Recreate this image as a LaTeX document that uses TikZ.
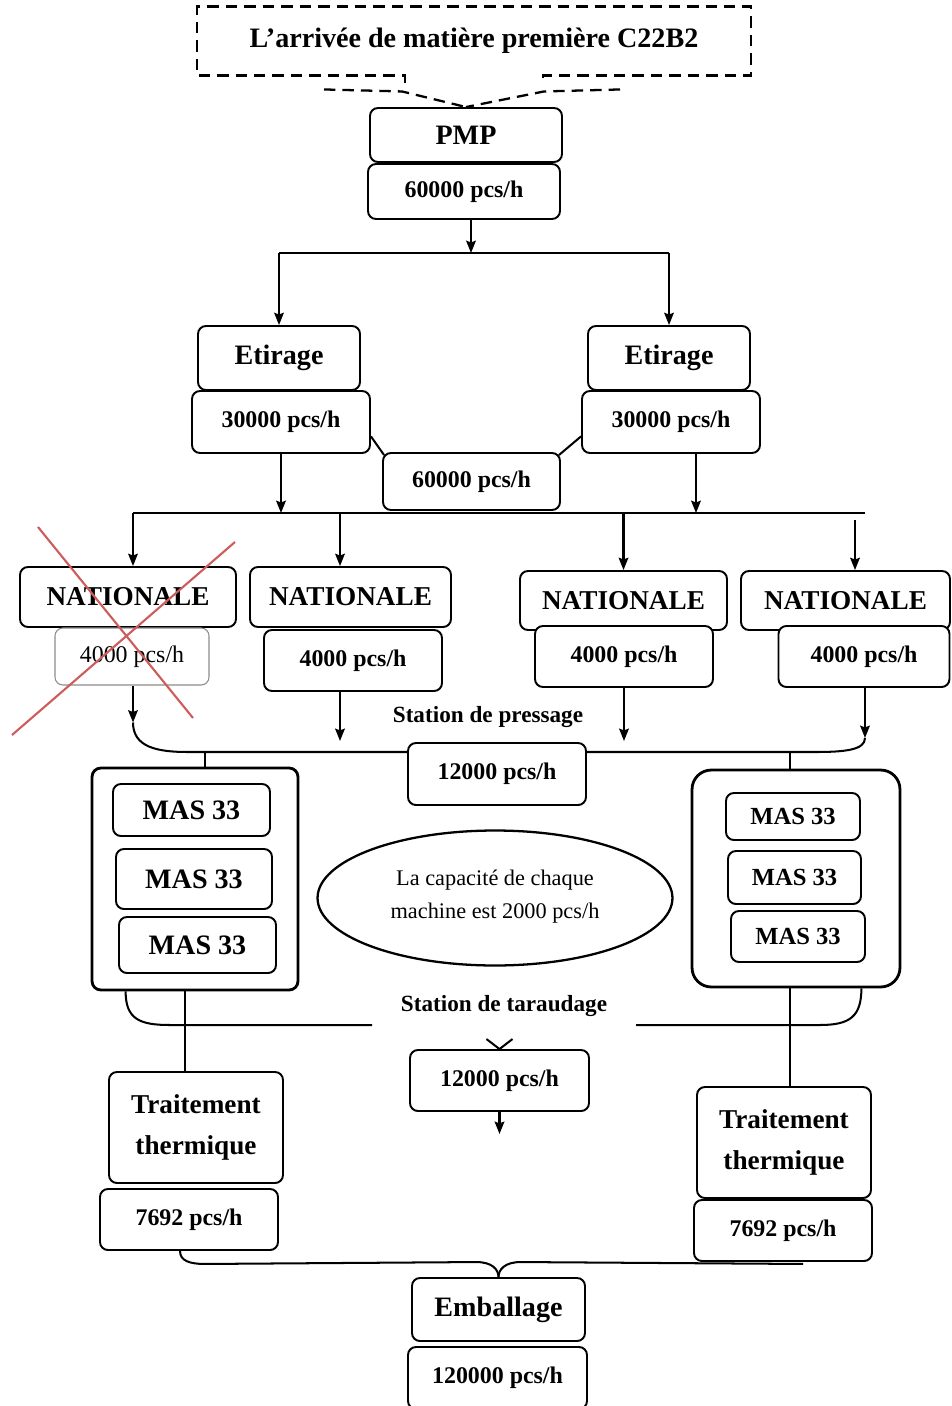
\documentclass[tikz,border=0pt]{standalone}
\usepackage{fontspec}
\setmainfont{Liberation Serif}
\usepackage{tikz}
\usetikzlibrary{shapes.geometric,arrows.meta,positioning,calc,backgrounds}
\definecolor{cLine}{HTML}{000000}
\definecolor{cCross}{HTML}{CD5C5C}
\definecolor{cSoftGray}{HTML}{8C8C8C}
\tikzset{
  box/.style   = {rectangle, rounded corners=4.5pt, draw=cLine, fill=white, line width=1.1pt,
                  align=center, inner sep=2pt, font=\fontsize{16}{19}\selectfont\bfseries},
  qty/.style   = {box, font=\fontsize{13.6}{16}\selectfont\bfseries},
  qtyx/.style  = {box, draw=cSoftGray, line width=0.6pt, font=\fontsize{13.6}{16}\selectfont},
  nat/.style   = {box, font=\fontsize{15.5}{18}\selectfont\bfseries},
  mas/.style   = {box, font=\fontsize{16}{19}\selectfont\bfseries},
  masr/.style  = {box, font=\fontsize{14}{17}\selectfont\bfseries},
  trt/.style   = {box, font=\fontsize{15.5}{23}\selectfont\bfseries},
  grp/.style   = {rectangle, rounded corners=#1, draw=cLine, line width=1.6pt},
  grp/.default = 5pt,
  note/.style  = {ellipse, draw=cLine, fill=white, line width=1.3pt, align=center,
                  font=\fontsize{12.7}{19}\selectfont},
  lab/.style   = {font=\fontsize{13.2}{16}\selectfont\bfseries, inner sep=1pt},
  ln/.style    = {draw=cLine, line width=1.15pt},
  fl/.style    = {ln, -{Stealth[length=7pt,width=5.5pt,inset=1pt]}},
  dsh/.style   = {draw=cLine, line width=1.3pt, dash pattern=on 6.5pt off 4pt},
  cross/.style = {draw=cCross, line width=1.2pt},
}

\begin{document}
\begin{tikzpicture}[x=0.02cm, y=-0.02cm]
  \useasboundingbox (0,0) rectangle (952,1406);

  % arrivee + PMP
  \node[box, draw=none, fill=none, minimum width=11.04cm, minimum height=1.34cm] (arr) at (474,41)
    {L’arrivée de matière première C22B2};
  \node[box, minimum width=3.84cm, minimum height=1.08cm] (pmp) at (466,135) {PMP};
  \node[qty, minimum width=3.84cm, minimum height=1.1cm] (r1) at (464,191.5) {60000 pcs/h};

  \draw[dsh] ($(arr.south)+(-69,8)$) -- ($(arr.south)+(-69,0)$) -- (arr.south west) -- (arr.north west)
    -- (arr.north east) -- (arr.south east) -- ($(arr.south)+(69,0)$) -- ++(0,8);
  \draw[dsh] ($(arr.south)+(-150,14)$) -- ($(arr.south)+(-72,16)$) -- (pmp.north);
  \draw[dsh] ($(arr.south)+(146,14)$) -- ($(arr.south)+(70,16)$) -- (pmp.north);

  % etirage
  \node[box, minimum width=3.24cm, minimum height=1.28cm] (etl) at (279,358) {Etirage};
  \node[qty, minimum width=3.56cm, minimum height=1.24cm] (ql) at (281,422) {30000 pcs/h};
  \node[box, minimum width=3.24cm, minimum height=1.28cm] (etr) at (669,358) {Etirage};
  \node[qty, minimum width=3.56cm, minimum height=1.24cm] (qr) at (671,422) {30000 pcs/h};
  \node[qty, minimum width=3.54cm, minimum height=1.14cm] (mid) at (471.5,481.5) {60000 pcs/h};

  % station de pressage
  \node[nat, minimum width=4.32cm, minimum height=1.2cm] (n1) at (128,597) {NATIONALE};
  \node[qtyx, minimum width=3.08cm, minimum height=1.14cm] (c1) at (132,656.5) {4000 pcs/h};
  \node[nat, minimum width=4.02cm, minimum height=1.2cm] (n2) at (350.5,597) {NATIONALE};
  \node[qty, minimum width=3.56cm, minimum height=1.22cm] (c2) at (353,660.5) {4000 pcs/h};
  \node[nat, minimum width=4.14cm, minimum height=1.18cm] (n3) at (623.5,600.5) {NATIONALE};
  \node[qty, minimum width=3.56cm, minimum height=1.22cm] (c3) at (624,656.5) {4000 pcs/h};
  \node[nat, minimum width=4.18cm, minimum height=1.18cm] (n4) at (845.5,600.5) {NATIONALE};
  \node[qty, minimum width=3.42cm, minimum height=1.22cm] (c4) at (864,656.5) {4000 pcs/h};

  \node[lab] (lp) at (488,717) {Station de pressage};
  \node[qty, minimum width=3.56cm, minimum height=1.24cm] (p1) at (497,774) {12000 pcs/h};

  % station de taraudage
  \node[grp=5pt, minimum width=4.12cm, minimum height=4.44cm] (gL) at (195,879) {};
  \node[mas, minimum width=3.14cm, minimum height=1.04cm] (mL1) at (191.5,810) {MAS 33};
  \node[mas, minimum width=3.12cm, minimum height=1.2cm] (mL2) at (194,879) {MAS 33};
  \node[mas, minimum width=3.14cm, minimum height=1.12cm] (mL3) at (197.5,945) {MAS 33};
  \node[grp=11pt, minimum width=4.16cm, minimum height=4.34cm] (gR) at (796,878.5) {};
  \node[masr, minimum width=2.68cm, minimum height=0.94cm] (mR1) at (793,816.5) {MAS 33};
  \node[masr, minimum width=2.66cm, minimum height=1.06cm] (mR2) at (794.5,877.5) {MAS 33};
  \node[masr, minimum width=2.68cm, minimum height=1.02cm] (mR3) at (798,936.5) {MAS 33};

  \node[note, minimum width=7.1cm, minimum height=2.7cm, text depth=4pt] (cap) at (495,898)
    {La capacité de chaque\\machine est 2000 pcs/h};

  \node[lab] (lt) at (504,1006) {Station de taraudage};
  \node[qty, minimum width=3.58cm, minimum height=1.22cm] (t2) at (499.5,1080.5) {12000 pcs/h};

  % traitement + emballage
  \node[trt, minimum width=3.48cm, minimum height=2.22cm] (trL) at (196,1127.5) {Traitement\\thermique};
  \node[qty, minimum width=3.56cm, minimum height=1.22cm] (hL) at (189,1219.5) {7692 pcs/h};
  \node[trt, minimum width=3.48cm, minimum height=2.22cm] (trR) at (784,1142.5) {Traitement\\thermique};
  \node[qty, minimum width=3.56cm, minimum height=1.22cm] (hR) at (783,1230.5) {7692 pcs/h};
  \node[box, minimum width=3.46cm, minimum height=1.26cm] (emb) at (498.5,1309.5) {Emballage};
  \node[qty, minimum width=3.58cm, minimum height=1.24cm] (tot) at (497.5,1378) {120000 pcs/h};

  \begin{scope}[on background layer]
    \coordinate (s1) at (471,253);
    \draw[fl] (r1.south -| s1) -- (s1);
    \draw[ln] (etl.north |- s1) -- (etr.north |- s1);
    \draw[fl] (etl.north |- s1) -- (etl.north);
    \draw[fl] (etr.north |- s1) -- (etr.north);

    \draw[ln] ($(ql.east)!0.45!(ql.south east)$) -- ($(mid.north west)+(2,3)$);
    \draw[ln] ($(qr.west)!0.45!(qr.south west)$) -- ($(mid.north east)+(-2,3)$);

    \coordinate (b2w) at (133,513);
    \coordinate (b2e) at (865,513);
    \coordinate (d1) at (ql.south);
    \coordinate (d2) at ($(qr.south)+(25,0)$);
    \foreach \d in {d1,d2}
      \draw[fl] (\d) -- (\d |- b2w);
    \draw[ln] (b2w) -- (b2e);
    \coordinate (a1) at ($(n1.north)+(5,0)$);
    \coordinate (a2) at ($(n2.north)+(-10.5,0)$);
    \coordinate (a3) at (n3.north);
    \coordinate (a4) at ($(n4.north)+(9.5,0)$);
    \foreach \a in {a1,a2,a3}
      \draw[fl] (\a |- b2w) -- (\a);
    \draw[fl] ($(a4 |- b2w)+(0,7)$) -- (a4);

    \coordinate (pw) at ($(c1.south)+(1,37)$);
    \coordinate (pe) at ($(c4.south)+(1,50)$);
    \coordinate (pb) at (0,752);
    \draw[fl] ($(c1.south)+(1,0)$) -- (pw);
    \draw[fl] ($(c2.south)+(-13,0)$) -- ++(0,49);
    \draw[fl] (c3.south) -- ++(0,53);
    \draw[fl] ($(c4.south)+(1,0)$) -- (pe);
    \draw[ln] (pw) .. controls +(0,25) and +(-30,0) .. ($(pw |- pb)+(55,0)$)
      -- ($(pe |- pb)+(-50,0)$) .. controls +(30,0) and +(0,12) .. (pe);
    \draw[ln] ($(gL.north)+(10,0)$) -- ++(0,-16);
    \draw[ln] ($(gR.north)+(-6,0)$) -- ++(0,-18);

    \coordinate (tw) at (372,1025);
    \coordinate (te) at (636,1025);
    \draw[ln] ($(gL.south west)+(35,0)$) .. controls +(0,28) and +(-30,0) .. ($(tw)+(-202,0)$) -- (tw);
    \draw[ln] (te) -- ($(te)+(184,0)$) .. controls +(30,0) and +(0,28) .. ($(gR.south east)+(-40,0)$);
    \draw[ln] ($(t2.north)+(-13,-10)$) -- (t2.north) -- ($(t2.north)+(13,-10)$);
    \draw[fl] (t2.south) -- ++(0,22);

    \coordinate (v1) at ($(gL.south)+(-10,0)$);
    \coordinate (v2) at ($(gR.south)+(-6,0)$);
    \draw[ln] (v1) -- (v1 |- trL.north);
    \draw[ln] (v2) -- (v2 |- trR.north);

    \draw[ln] ($(hL.south)+(-9,0)$) .. controls +(0,10) and +(-15,0) .. ($(hL.south)+(16,13)$)
      -- ($(emb.north)+(-22,-15)$) .. controls +(15,0) and +(0,-8) .. (emb.north);
    \draw[ln] ($(hR.south)+(20,2)$) -- ($(emb.north)+(22,-15)$) .. controls +(-15,0) and +(0,-8) .. (emb.north);
  \end{scope}

  % machine hors service
  \draw[cross] (38,527) -- (193,718);
  \draw[cross] (235,542) -- (12,735);
\end{tikzpicture}
\end{document}
